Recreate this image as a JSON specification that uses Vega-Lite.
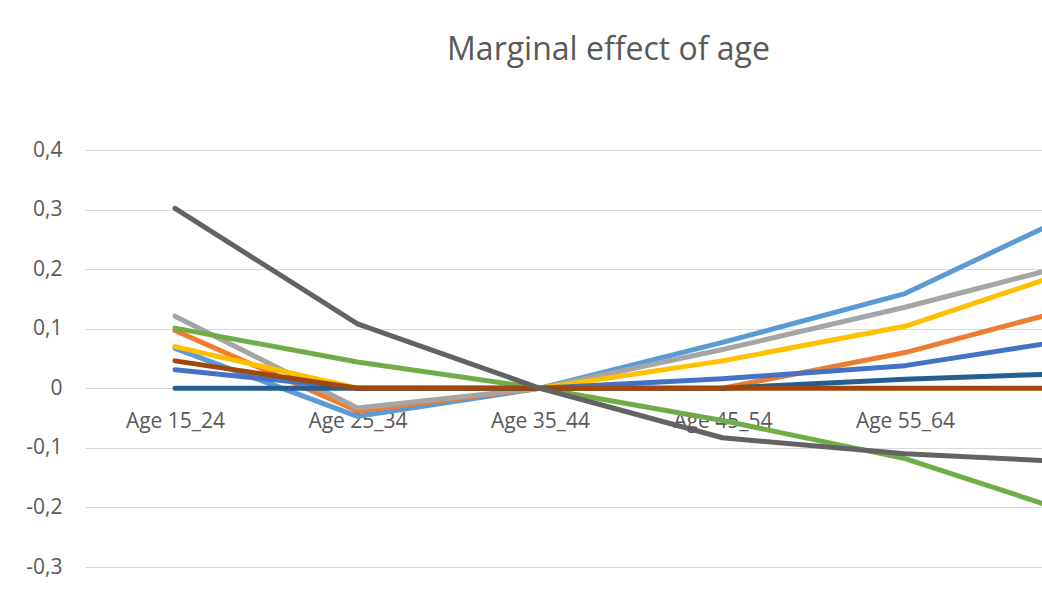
{
  "$schema": "https://vega.github.io/schema/vega-lite/v6.json",
  "width": 957,
  "height": 417,
  "autosize": {"type": "none"},
  "padding": {"left": 85, "top": 150, "right": 0, "bottom": 23},
  "background": "white",
  "config": {"view": {"stroke": null}},
  "title": {"text": "Marginal effect of age", "font": "Open Sans", "fontSize": 32, "fontWeight": "normal", "color": "#595959", "anchor": "middle", "frame": "group", "offset": 72, "dx": 45},
  "data": {"values": [
    {"series": "Series 1", "age": "Age 15_24", "value": 0.067},
    {"series": "Series 1", "age": "Age 25_34", "value": -0.047},
    {"series": "Series 1", "age": "Age 35_44", "value": 0},
    {"series": "Series 1", "age": "Age 45_54", "value": 0.077},
    {"series": "Series 1", "age": "Age 55_64", "value": 0.159},
    {"series": "Series 1", "age": "Age 65+", "value": 0.304},
    {"series": "Series 2", "age": "Age 15_24", "value": 0.097},
    {"series": "Series 2", "age": "Age 25_34", "value": -0.038},
    {"series": "Series 2", "age": "Age 35_44", "value": 0},
    {"series": "Series 2", "age": "Age 45_54", "value": 0},
    {"series": "Series 2", "age": "Age 55_64", "value": 0.06},
    {"series": "Series 2", "age": "Age 65+", "value": 0.141},
    {"series": "Series 3", "age": "Age 15_24", "value": 0.121},
    {"series": "Series 3", "age": "Age 25_34", "value": -0.033},
    {"series": "Series 3", "age": "Age 35_44", "value": 0},
    {"series": "Series 3", "age": "Age 45_54", "value": 0.065},
    {"series": "Series 3", "age": "Age 55_64", "value": 0.136},
    {"series": "Series 3", "age": "Age 65+", "value": 0.215},
    {"series": "Series 4", "age": "Age 15_24", "value": 0.07},
    {"series": "Series 4", "age": "Age 25_34", "value": 0},
    {"series": "Series 4", "age": "Age 35_44", "value": 0},
    {"series": "Series 4", "age": "Age 45_54", "value": 0.046},
    {"series": "Series 4", "age": "Age 55_64", "value": 0.104},
    {"series": "Series 4", "age": "Age 65+", "value": 0.206},
    {"series": "Series 5", "age": "Age 15_24", "value": 0.031},
    {"series": "Series 5", "age": "Age 25_34", "value": 0},
    {"series": "Series 5", "age": "Age 35_44", "value": 0},
    {"series": "Series 5", "age": "Age 45_54", "value": 0.016},
    {"series": "Series 5", "age": "Age 55_64", "value": 0.038},
    {"series": "Series 5", "age": "Age 65+", "value": 0.086},
    {"series": "Series 6", "age": "Age 15_24", "value": 0.101},
    {"series": "Series 6", "age": "Age 25_34", "value": 0.044},
    {"series": "Series 6", "age": "Age 35_44", "value": 0},
    {"series": "Series 6", "age": "Age 45_54", "value": -0.054},
    {"series": "Series 6", "age": "Age 55_64", "value": -0.118},
    {"series": "Series 6", "age": "Age 65+", "value": -0.218},
    {"series": "Series 7", "age": "Age 15_24", "value": 0},
    {"series": "Series 7", "age": "Age 25_34", "value": 0},
    {"series": "Series 7", "age": "Age 35_44", "value": 0},
    {"series": "Series 7", "age": "Age 45_54", "value": 0},
    {"series": "Series 7", "age": "Age 55_64", "value": 0.015},
    {"series": "Series 7", "age": "Age 65+", "value": 0.026},
    {"series": "Series 8", "age": "Age 15_24", "value": 0.046},
    {"series": "Series 8", "age": "Age 25_34", "value": 0},
    {"series": "Series 8", "age": "Age 35_44", "value": 0},
    {"series": "Series 8", "age": "Age 45_54", "value": 0},
    {"series": "Series 8", "age": "Age 55_64", "value": 0},
    {"series": "Series 8", "age": "Age 65+", "value": 0},
    {"series": "Series 9", "age": "Age 15_24", "value": 0.302},
    {"series": "Series 9", "age": "Age 25_34", "value": 0.108},
    {"series": "Series 9", "age": "Age 35_44", "value": 0},
    {"series": "Series 9", "age": "Age 45_54", "value": -0.083},
    {"series": "Series 9", "age": "Age 55_64", "value": -0.11},
    {"series": "Series 9", "age": "Age 65+", "value": -0.125}
  ]},
  "mark": {"type": "line", "strokeWidth": 5, "strokeCap": "round", "strokeJoin": "round", "clip": true},
  "encoding": {
    "x": {
      "field": "age", "type": "ordinal",
      "scale": {"type": "point", "domain": ["Age 15_24", "Age 25_34", "Age 35_44", "Age 45_54", "Age 55_64", "Age 65+"], "range": [0, 1092.5], "padding": 0.4932},
      "axis": {"title": null, "labelAngle": 0, "ticks": false, "domain": false, "grid": false, "offset": -179, "labelPadding": 22, "labelFont": "Open Sans", "labelFontSize": 21, "labelColor": "#595959",
        "labelExpr": "datum.label == 'Age 65+' ? '' : datum.label"}
    },
    "y": {
      "field": "value", "type": "quantitative",
      "scale": {"domain": [-0.3, 0.4], "nice": false, "zero": false},
      "axis": {"title": null, "values": [-0.3, -0.2, -0.1, 0, 0.1, 0.2, 0.3, 0.4], "ticks": false, "domain": false, "grid": true, "gridColor": "#d9d9d9", "gridWidth": 1.2, "labelPadding": 23, "labelFont": "Open Sans", "labelFontSize": 21, "labelColor": "#595959",
        "labelExpr": "datum.value == 0 ? '0' : (datum.value < 0 ? '-' : '') + replace(format(abs(datum.value), '.1f'), '.', ',')"}
    },
    "color": {
      "field": "series", "type": "nominal",
      "scale": {"domain": ["Series 1", "Series 2", "Series 3", "Series 4", "Series 5", "Series 6", "Series 7", "Series 8", "Series 9"],
        "range": ["#5B9BD5", "#ED7D31", "#A5A5A5", "#FFC000", "#4472C4", "#70AD47", "#255E91", "#9E480E", "#636363"]},
      "legend": null
    }
  }
}
